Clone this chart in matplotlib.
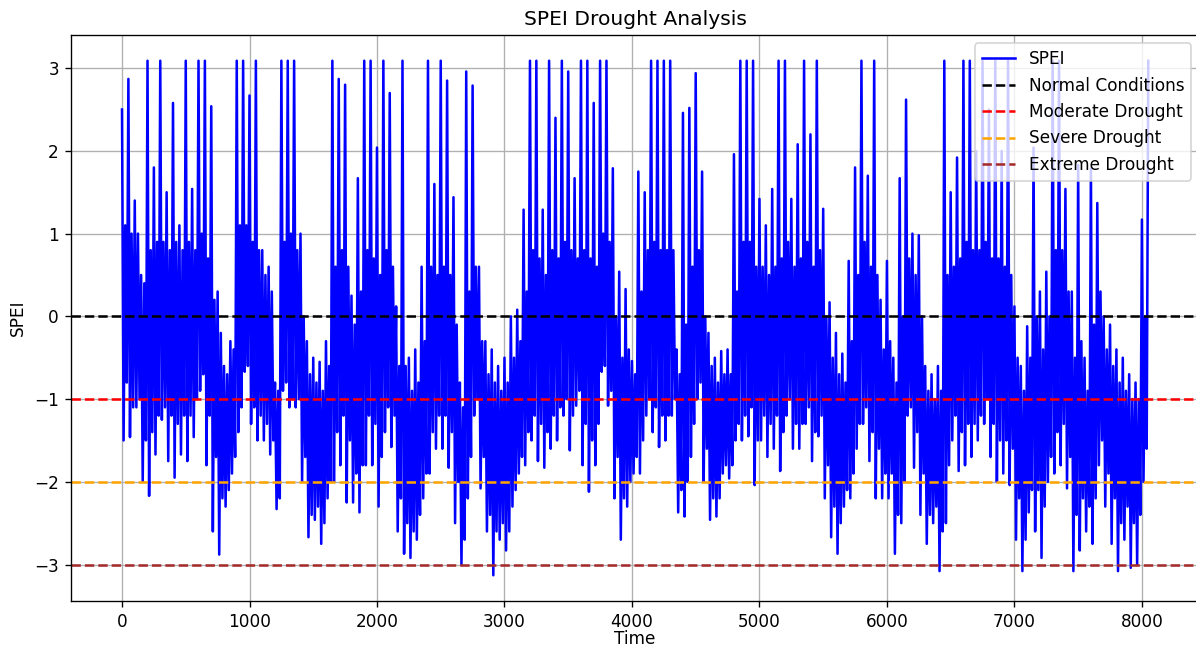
import matplotlib
matplotlib.use("Agg")
import matplotlib.pyplot as plt

# ---- data, per 50-step block ----
# spike top, spike bottom, and the edges of the dense core band of each block
block_step = 50
spei_high = [
    2.5, 2.87, 1.4, 0.5, 3.09, 1.8, 3.09, 1.5, 2.58, 1.1,
    3.09, 1.54, 3.09, 3.09, 2.54, 0.3, -0.6, -0.3, 3.09, 3.09,
    2.67, 3.09, 0.8, 0.6, -0.8, 3.09, 3.09, 3.09, 1.0, -0.3,
    -0.5, -0.55, -0.3, 3.09, 2.87, 2.8, 0.25, 1.67, 3.09, 3.09,
    2.04, 3.09, 2.7, 0.12, 3.09, -0.5, -0.4, 0.6, 3.09, 1.6,
    3.09, 2.85, 1.44, -0.8, 2.96, 2.79, 0.6, -0.3, -0.4, -0.6,
    -0.5, 0.0, 0.08, 1.29, 3.09, 3.09, 1.29, 3.09, 2.4, 3.09,
    2.96, 1.67, 3.09, 3.09, 2.58, 3.09, 3.09, 1.79, 0.54, 0.33,
    -0.54, 1.75, 1.5, 3.09, 3.09, 3.09, 3.09, -0.4, 2.46, 2.52,
    2.94, 1.75, -0.2, -0.5, -0.42, -0.4, 1.96, 3.09, 3.09, 3.09,
    1.42, 1.1, 1.54, 3.09, 3.09, 1.42, 2.08, 3.09, 2.2, 3.09,
    1.3, 0.17, -0.2, -0.45, 0.67, 1.8, 3.09, 1.7, 3.09, 0.2,
    0.67, -0.5, 1.67, 2.62, 1.0, 0.98, -0.6, -0.7, -0.6, 3.09,
    1.5, 1.92, 3.09, 3.09, 2.0, 3.09, 2.5, 3.09, 2.0, 3.09,
    0.12, -0.6, -0.12, 2.04, 0.3, 0.54, 3.09, 3.09, 1.54, 0.3,
    1.83, -0.5, 1.79, 1.37, 0.0, -0.1, -0.4, -0.5, -0.7, -0.8,
    1.17,
]
spei_low = [
    -1.5, -1.46, -1.1, -2.0, -2.17, -1.67, -1.25, -1.75, -1.95, -1.67,
    -1.75, -1.46, -0.9, -1.8, -2.6, -2.88, -2.3, -1.9, -1.4, -0.67,
    -1.3, -1.5, -1.5, -1.67, -2.33, -0.9, -1.1, -1.1, -2.0, -2.67,
    -2.46, -2.75, -2.2, -2.0, -1.8, -2.25, -2.25, -2.37, -1.8, -1.8,
    -2.3, -1.4, -1.58, -2.6, -2.87, -2.92, -2.7, -2.2, -1.9, -1.6,
    -1.6, -1.83, -2.5, -3.0, -2.2, -1.2, -2.08, -2.6, -3.13, -2.7,
    -2.83, -2.3, -1.9, -1.8, -1.5, -1.75, -1.83, -1.6, -1.5, -1.2,
    -1.62, -1.08, -1.8, -2.12, -1.8, -0.67, -1.08, -2.2, -2.7, -2.3,
    -1.9, -1.9, -1.2, -1.4, -1.58, -1.5, -1.2, -2.37, -2.42, -1.7,
    -1.0, -2.0, -2.46, -2.42, -1.9, -1.96, -1.5, -1.5, -1.45, -2.04,
    -1.5, -1.7, -1.6, -1.87, -1.2, -1.6, -1.6, -1.3, -1.75, -1.45,
    -2.2, -2.67, -2.87, -2.3, -2.2, -1.6, -1.3, -1.75, -2.2, -2.2,
    -2.2, -2.87, -2.5, -1.2, -1.83, -2.4, -2.75, -2.5, -3.08, -2.5,
    -1.5, -1.87, -1.8, -1.7, -1.5, -1.3, -1.7, -2.0, -1.9, -2.04,
    -2.7, -3.08, -2.37, -2.6, -2.92, -2.0, -1.9, -1.8, -2.08, -3.08,
    -2.83, -2.6, -2.75, -1.8, -2.3, -2.75, -3.08, -2.7, -3.04, -3.0,
    -2.0,
]
core_high = [
    1.1, 1.0, 1.0, 0.4, 0.8, 0.9, 0.9, 0.8, 0.9, 0.8,
    0.9, 0.8, 1.0, 0.7, 0.2, -0.2, -0.7, -0.4, 1.1, 1.1,
    0.9, 0.8, 0.5, 0.3, -0.9, 0.9, 1.0, 0.8, 0.0, -0.7,
    -0.8, -0.9, -0.6, 0.6, 0.8, 0.6, -0.1, 0.3, 0.8, 0.7,
    0.5, 0.8, 0.6, -0.6, -0.6, -0.9, -0.8, -0.3, 0.6, 0.5,
    0.6, 0.5, -0.1, -1.1, 0.3, 0.6, -0.3, -0.7, -0.8, -0.9,
    -0.8, -0.5, -0.3, 0.3, 0.8, 0.7, 0.5, 0.8, 0.7, 0.9,
    0.8, 0.7, 0.8, 0.7, 0.6, 1.0, 0.9, 0.0, -0.5, -0.4,
    -0.7, 0.3, 0.8, 0.9, 0.8, 0.8, 0.8, -0.7, -0.1, 0.6,
    0.8, 0.0, -0.6, -0.8, -0.7, -0.7, 0.3, 0.9, 0.9, 0.6,
    0.6, 0.5, 0.6, 0.7, 0.9, 0.6, 0.7, 0.9, 0.6, 0.8,
    0.0, -0.5, -0.7, -0.8, -0.3, 0.5, 0.9, 0.6, 0.5, -0.4,
    -0.3, -0.8, 0.0, 0.7, 0.5, 0.0, -0.9, -1.0, -0.9, 0.5,
    0.6, 0.7, 0.9, 0.8, 0.8, 0.9, 0.7, 0.7, 0.6, 0.5,
    -0.5, -0.9, -0.5, 0.0, -0.4, 0.0, 0.8, 0.8, 0.3, -0.5,
    -0.3, -0.9, -0.1, 0.3, -0.4, -0.6, -0.8, -0.9, -1.0, -1.0,
    0.0,
]
core_low = [
    -0.8, -1.1, -1.0, -1.5, -1.4, -1.2, -1.1, -1.2, -1.3, -1.2,
    -1.2, -1.0, -0.7, -1.2, -1.7, -2.2, -2.1, -1.7, -1.1, -0.6,
    -1.1, -1.2, -1.3, -1.5, -2.2, -0.8, -1.0, -1.0, -1.7, -2.4,
    -2.3, -2.5, -2.0, -1.4, -1.2, -1.5, -1.9, -1.8, -1.2, -1.3,
    -1.7, -1.1, -1.2, -2.2, -2.5, -2.6, -2.4, -1.9, -1.4, -1.2,
    -1.2, -1.4, -2.0, -2.7, -1.7, -1.0, -1.7, -2.4, -2.6, -2.5,
    -2.6, -2.1, -1.7, -1.4, -1.2, -1.3, -1.4, -1.2, -1.1, -1.0,
    -1.2, -0.9, -1.3, -1.5, -1.3, -0.6, -0.9, -1.7, -2.2, -2.0,
    -1.7, -1.5, -1.0, -1.1, -1.2, -1.2, -1.0, -2.1, -2.0, -1.3,
    -0.8, -1.6, -2.2, -2.2, -1.8, -1.8, -1.3, -1.2, -1.1, -1.5,
    -1.2, -1.3, -1.2, -1.4, -1.0, -1.3, -1.3, -1.1, -1.4, -1.2,
    -1.8, -2.3, -2.5, -2.1, -1.9, -1.3, -1.1, -1.4, -1.6, -1.9,
    -1.9, -2.4, -2.0, -1.1, -1.4, -1.9, -2.4, -2.3, -2.6, -1.8,
    -1.2, -1.4, -1.3, -1.3, -1.2, -1.0, -1.3, -1.5, -1.5, -1.6,
    -2.2, -2.7, -2.1, -2.1, -2.3, -1.7, -1.4, -1.3, -1.7, -2.4,
    -2.2, -2.3, -2.2, -1.5, -1.9, -2.2, -2.5, -2.3, -2.5, -2.4,
    -1.6,
]
spei_last = 3.09

threshold_values = [0, -1, -2, -3]
threshold_labels = ["Normal Conditions", "Moderate Drought", "Severe Drought", "Extreme Drought"]
threshold_colors = ["black", "red", "orange", "brown"]

# ---- build the series: top, bottom, core top, core bottom inside each block ----
time = []
spei = []
quarter = block_step / 4
for i, (h, l, ch, cl) in enumerate(zip(spei_high, spei_low, core_high, core_low)):
    t0 = i * block_step
    time += [t0, t0 + quarter, t0 + 2 * quarter, t0 + 3 * quarter]
    spei += [h, l, ch, cl]
time.append(len(spei_high) * block_step)
spei.append(spei_last)

DPI = 121.4
fig = plt.figure(figsize=(1196 / DPI, 649 / DPI), dpi=DPI)
ax = fig.add_axes([70.7 / 1196, 48 / 649, (1199.6 - 70.7) / 1196, 566 / 649])

ax.plot(time, spei, color="blue", label="SPEI")
for val, lab, col in zip(threshold_values, threshold_labels, threshold_colors):
    ax.axhline(val, color=col, linestyle="--", label=lab)

ax.set_title("SPEI Drought Analysis")
ax.set_xlabel("Time", labelpad=-0.7)
ax.set_ylabel("SPEI")
ax.legend(loc="upper right")
ax.grid(True)

fig.savefig("out.png", dpi=DPI)
